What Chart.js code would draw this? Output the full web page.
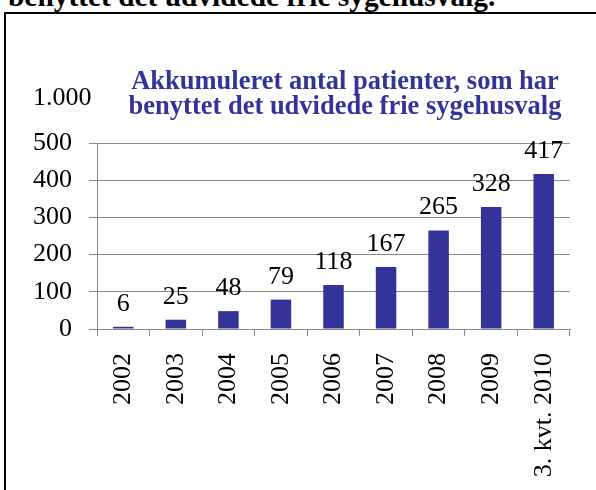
<!DOCTYPE html>
<html>
<head>
<meta charset="utf-8">
<script src="https://cdn.jsdelivr.net/npm/chart.js@4.4.1/dist/chart.umd.min.js"></script>
<style>
  html, body { margin: 0; padding: 0; background: #fff; }
  body { width: 596px; height: 490px; position: relative; overflow: hidden; font-family: "Liberation Serif", "Times New Roman", serif; }
  #heading { position: absolute; left: 8px; top: -18px; font-size: 29.4px; line-height: 29px; font-weight: bold; color: #000; white-space: nowrap; }
  #frame { position: absolute; left: 4px; top: 12px; width: 640px; height: 600px; border: 2px solid #000; box-sizing: border-box; }
  #wrap { position: absolute; left: 0; top: 0; width: 596px; height: 490px; }
  #title { position: absolute; left: 100px; top: 67.5px; width: 490px; text-align: center; font-size: 26.5px; line-height: 25px; font-weight: bold; color: #333399; white-space: nowrap; }
</style>
</head>
<body>
<div id="heading">benyttet det udvidede frie sygehusvalg.</div>
<div id="frame"></div>
<div id="wrap"><canvas id="c" width="596" height="490"></canvas></div>
<div id="title">Akkumuleret antal patienter, som har<br>benyttet det udvidede frie sygehusvalg</div>
<script>
const categories = ['2002', '2003', '2004', '2005', '2006', '2007', '2008', '2009', '3. kvt. 2010'];
const patients = [6, 25, 48, 79, 118, 167, 265, 328, 417];
const yTicks = [0, 100, 200, 300, 400, 500];
const yTopLabelValue = 620;
const yTopLabelText = '1.000';

const FONT = '"Liberation Serif", "Times New Roman", serif';
const GRID = '#8a8a8a';

const valueLabels = {
  id: 'valueLabels',
  afterDatasetsDraw(chart) {
    const ctx = chart.ctx;
    const meta = chart.getDatasetMeta(0);
    ctx.save();
    ctx.font = '26px ' + FONT;
    ctx.fillStyle = '#000';
    ctx.textAlign = 'center';
    ctx.textBaseline = 'alphabetic';
    meta.data.forEach((bar, i) => {
      ctx.fillText(String(patients[i]), bar.x, bar.y - 16);
    });
    ctx.restore();
  }
};

const topLabel = {
  id: 'topLabel',
  afterDraw(chart) {
    const y = chart.scales.y;
    const ctx = chart.ctx;
    ctx.save();
    ctx.font = '26px ' + FONT;
    ctx.fillStyle = '#000';
    ctx.textBaseline = 'middle';
    ctx.textAlign = 'left';
    const w500 = ctx.measureText(String(yTicks[yTicks.length - 1])).width;
    const x = chart.chartArea.left - y.options.grid.tickLength - y.options.ticks.padding - w500;
    ctx.fillText(yTopLabelText, x, y.getPixelForValue(yTopLabelValue));
    ctx.restore();
  }
};

new Chart(document.getElementById('c'), {
  type: 'bar',
  data: {
    labels: categories,
    datasets: [{
      data: patients,
      backgroundColor: '#333399',
      borderWidth: 0,
      barPercentage: 0.39,
      categoryPercentage: 1.0
    }]
  },
  options: {
    responsive: false,
    animation: false,
    devicePixelRatio: 1,
    layout: { padding: { left: 0, right: 26, top: 143, bottom: 0 } },
    plugins: { legend: { display: false }, title: { display: false }, tooltip: { enabled: false } },
    scales: {
      x: {
        grid: { display: true, offset: true, drawOnChartArea: false, drawTicks: true, tickLength: 7, color: GRID, lineWidth: 1 },
        border: { display: true, color: GRID, width: 1 },
        ticks: { minRotation: 90, maxRotation: 90, autoSkip: false, padding: 17, color: '#000', font: { family: FONT, size: 26 } },
        afterFit(scale) { scale.height = 161; }
      },
      y: {
        min: 0,
        max: 500,
        afterBuildTicks(scale) { scale.ticks = yTicks.map(v => ({ value: v })); },
        grid: { display: true, drawTicks: true, tickLength: 8, color: GRID, lineWidth: 1 },
        border: { display: true, color: GRID, width: 1 },
        ticks: { padding: 17, color: '#000', font: { family: FONT, size: 26 }, callback: (v) => String(v) },
        afterFit(scale) { scale.width = 97; }
      }
    }
  },
  plugins: [valueLabels, topLabel]
});
</script>
</body>
</html>
